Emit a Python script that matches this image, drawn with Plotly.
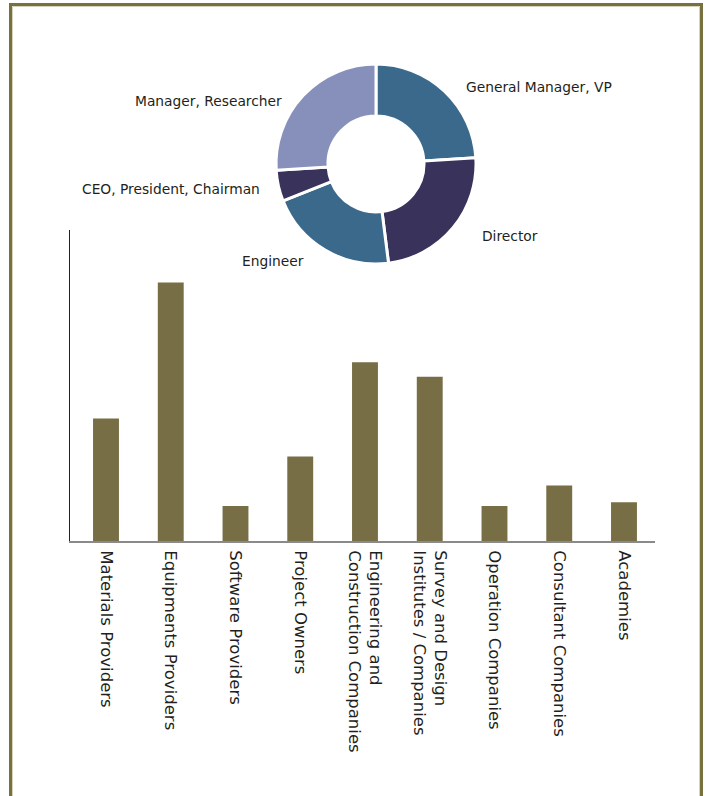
import plotly.graph_objects as go

# Donut data (share of respondents by job title, %)
roles = ["General Manager, VP", "Director", "Engineer", "CEO, President, Chairman", "Manager, Researcher"]
role_share = [24, 24, 21, 5, 26]
role_colors = ["#3b698c", "#39325b", "#3b698c", "#39325b", "#8690bb"]

# Bar data (share by company type, %)
companies = ["Materials Providers", "Equipments Providers", "Software Providers", "Project Owners",
             "Engineering and<br>Construction Companies", "Survey and Design<br>Institutes / Companies",
             "Operation Companies", "Consultant Companies", "Academies"]
company_share = [12.6, 26.6, 3.6, 8.7, 18.4, 16.9, 3.6, 5.7, 4.0]

W, H = 709, 796
FONT = "DejaVu Sans"
TXT = "#231f20"

fig = go.Figure()

fig.add_trace(go.Bar(
    x=companies, y=company_share,
    marker=dict(color="#776e45", line=dict(width=0)),
    hoverinfo="x+y", showlegend=False,
))

fig.add_trace(go.Pie(
    labels=roles, values=role_share, hole=0.48, sort=False,
    direction="clockwise", rotation=0,
    marker=dict(colors=role_colors, line=dict(color="white", width=3)),
    textinfo="none", showlegend=False,
    domain=dict(x=[276 / W, 476 / W], y=[1 - 264 / H, 1 - 64 / H]),
))

# label positions (pixel) for donut labels
label_pos = [(464, 87, "left"), (480, 236, "left"), (306, 261, "right"), (262, 189, "right"), (284, 101, "right")]
annotations = []
for name, (px, py, anc) in zip(roles, label_pos):
    annotations.append(dict(
        x=px / W, y=1 - py / H, xref="paper", yref="paper", text=name, showarrow=False,
        xanchor=anc, yanchor="middle", font=dict(family=FONT, size=13.8, color=TXT),
    ))

shapes = [
    dict(type="rect", xref="paper", yref="paper", x0=10.5 / W, x1=701.5 / W, y0=-0.02, y1=1 - 4.5 / H,
         line=dict(color="#77713f", width=3), layer="above"),
    dict(type="rect", xref="paper", yref="paper", x0=12.5 / W, x1=699.5 / W, y0=-0.02, y1=1 - 6.5 / H,
         line=dict(color="#d6d3ba", width=1), layer="above"),
]

fig.update_layout(
    width=W, height=H, margin=dict(l=0, r=0, t=0, b=0),
    paper_bgcolor="white", plot_bgcolor="white",
    bargap=0.6,
    font=dict(family=FONT, color=TXT),
    xaxis=dict(domain=[70 / W, 655 / W], range=[-0.556, 8.479], showgrid=False, zeroline=False,
               showline=True, linecolor="#8a8a8a", linewidth=2, ticks="", ticklabelstandoff=4,
               tickangle=90, tickfont=dict(family=FONT, size=16.5, color=TXT)),
    yaxis=dict(domain=[1 - 541 / H, 1 - 230 / H], range=[0, 32], showgrid=False, zeroline=False,
               showline=True, linecolor="#222", linewidth=1, showticklabels=False, ticks=""),
    annotations=annotations, shapes=shapes,
)

fig.write_html("out.html", config={"displayModeBar": False},
               post_script="document.body.style.margin='0';")
